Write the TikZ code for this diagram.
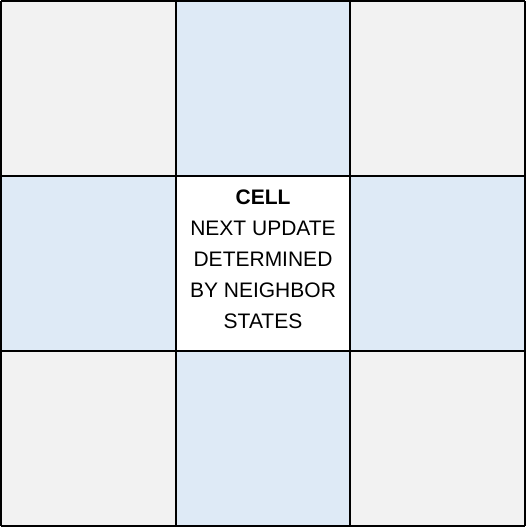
\documentclass[tikz,border=0pt]{standalone}
\usepackage{fontspec}
\setmainfont{Liberation Sans}
\usepackage{xcolor}
\usepackage{tikz}
\usetikzlibrary{calc}

\definecolor{cellgray}{HTML}{F2F2F2}
\definecolor{cellblue}{HTML}{DEEAF6}

\begin{document}
\begin{tikzpicture}[x=1pt,y=-1pt]
            % page size
            \useasboundingbox (0,0) rectangle (526,527);

            % corner cells (gray)
            \foreach \x/\y in {1/1,350/1,1/351,350/351} {
              \fill[cellgray] (\x,\y) rectangle ++(175,175);
            }
            % neighbour cells (blue)
            \foreach \x/\y in {176/1,1/176,350/176,176/351} {
              \fill[cellblue] (\x,\y) rectangle ++(175,175);
            }
            % centre cell
            \fill[white] (176,176) rectangle (350,351);

            % grid lines
            \foreach \x in {1,176,350,525} {
              \draw[black, line width=1.4pt] (\x,1) -- (\x,526);
            }
            \foreach \y in {1,176,351,526} {
              \draw[black, line width=1.4pt] (1,\y) -- (525,\y);
            }

            % label
            \node[font=\fontsize{21}{31}\selectfont, align=center, inner sep=0pt] (cell) at (263,259)
              {\textbf{CELL}\\NEXT UPDATE\\DETERMINED\\BY NEIGHBOR\\STATES};
        \end{tikzpicture}
\end{document}
